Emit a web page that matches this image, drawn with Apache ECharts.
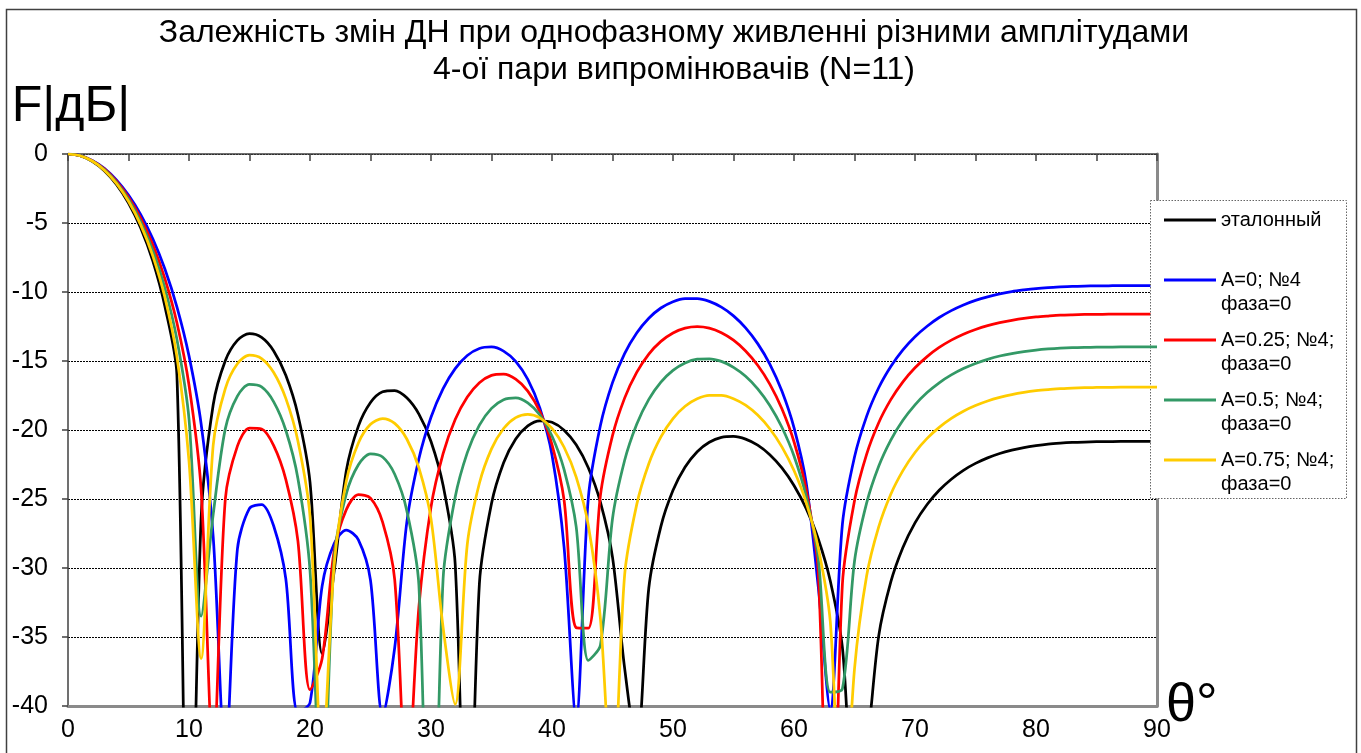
<!DOCTYPE html>
<html>
<head>
<meta charset="utf-8">
<script src="https://cdn.jsdelivr.net/npm/echarts@6/dist/echarts.min.js"></script>
<style>
html,body{margin:0;padding:0;background:#fff;}
#chart{width:1361px;height:753px;}
</style>
</head>
<body>
<div id="chart"></div>
<script>
const theta = [0,1,2,3,4,5,6,7,8,9,10,11,12,13,14,15,16,17,18,19,20,21,22,23,24,25,26,27,28,29,30,31,32,33,34,35,36,37,38,39,40,41,42,43,44,45,46,47,48,49,50,51,52,53,54,55,56,57,58,59,60,61,62,63,64,65,66,67,68,69,70,71,72,73,74,75,76,77,78,79,80,81,82,83,84,85,86,87,88,89,90];

const etalon = [0,-0.13,-0.53,-1.21,-2.20,-3.55,-5.34,-7.72,-11.01,-15.99,-60,-26.44,-18.17,-14.98,-13.51,-13.02,-13.29,-14.27,-16.04,-18.89,-23.77,-36.20,-30.21,-22.95,-19.72,-18.01,-17.23,-17.14,-17.67,-18.85,-20.83,-24.01,-29.73,-55.41,-31.13,-25.33,-22.37,-20.65,-19.70,-19.33,-19.44,-20.01,-21.07,-22.73,-25.23,-29.21,-37.24,-43.07,-31.45,-26.98,-24.37,-22.68,-21.57,-20.89,-20.54,-20.47,-20.66,-21.10,-21.79,-22.75,-24.02,-25.68,-27.88,-30.94,-35.76,-47.10,-43.03,-34.92,-31.01,-28.51,-26.73,-25.40,-24.37,-23.57,-22.92,-22.42,-22.02,-21.70,-21.46,-21.27,-21.13,-21.02,-20.95,-20.90,-20.87,-20.85,-20.84,-20.83,-20.83,-20.83,-20.83];

const a0 = [0,-0.11,-0.46,-1.03,-1.87,-2.97,-4.37,-6.13,-8.32,-11.07,-14.63,-19.55,-27.75,-43.84,-28.63,-25.68,-25.40,-26.96,-30.78,-40.47,-39.76,-31.32,-28.22,-27.25,-27.96,-30.89,-40.70,-35.78,-26.69,-22.08,-19.08,-17.00,-15.55,-14.60,-14.09,-13.98,-14.28,-15.03,-16.34,-18.42,-21.81,-28.50,-40.93,-24.93,-19.68,-16.57,-14.46,-12.97,-11.90,-11.16,-10.70,-10.48,-10.48,-10.68,-11.10,-11.73,-12.60,-13.74,-15.22,-17.18,-19.83,-23.79,-31.32,-40.24,-26.83,-21.96,-19.01,-16.94,-15.40,-14.19,-13.24,-12.48,-11.85,-11.35,-10.94,-10.61,-10.35,-10.14,-9.97,-9.85,-9.75,-9.68,-9.63,-9.59,-9.57,-9.56,-9.55,-9.54,-9.54,-9.54,-9.54];

const a025 = [0,-0.12,-0.48,-1.08,-1.96,-3.13,-4.64,-6.56,-9.02,-12.23,-16.74,-24.29,-43.58,-25.02,-21.17,-19.86,-19.93,-21.13,-23.58,-28.04,-38.82,-36.58,-28.75,-25.77,-24.68,-24.94,-26.68,-30.85,-46.11,-32.82,-25.58,-21.71,-19.24,-17.61,-16.57,-16.04,-15.95,-16.32,-17.18,-18.67,-21.06,-25.09,-34.33,-34.36,-24.75,-20.41,-17.69,-15.83,-14.50,-13.58,-12.97,-12.62,-12.51,-12.62,-12.95,-13.49,-14.27,-15.31,-16.67,-18.46,-20.85,-24.30,-30.18,-57.73,-31.17,-25.13,-21.76,-19.47,-17.80,-16.51,-15.49,-14.68,-14.02,-13.49,-13.06,-12.72,-12.44,-12.22,-12.05,-11.91,-11.81,-11.74,-11.68,-11.65,-11.63,-11.62,-11.61,-11.60,-11.60,-11.60,-11.60];

const a05 = [0,-0.12,-0.50,-1.13,-2.05,-3.28,-4.89,-6.97,-9.70,-13.43,-19.20,-33.48,-26.11,-19.92,-17.54,-16.70,-16.88,-17.96,-20.02,-23.51,-30.17,-48.61,-29.26,-24.63,-22.52,-21.73,-21.96,-23.21,-25.84,-31.25,-60,-30.79,-24.86,-21.64,-19.65,-18.43,-17.80,-17.67,-18.03,-18.91,-20.43,-22.87,-27.02,-36.69,-35.60,-26.43,-22.21,-19.58,-17.78,-16.53,-15.68,-15.14,-14.87,-14.84,-15.03,-15.46,-16.11,-17.02,-18.22,-19.80,-21.88,-24.78,-29.26,-39.00,-38.76,-29.51,-25.30,-22.63,-20.73,-19.30,-18.18,-17.29,-16.58,-16.01,-15.55,-15.18,-14.88,-14.64,-14.46,-14.32,-14.21,-14.13,-14.07,-14.03,-14.01,-14.00,-13.99,-13.98,-13.98,-13.98,-13.98];

const a075 = [0,-0.13,-0.51,-1.17,-2.13,-3.42,-5.12,-7.36,-10.36,-14.68,-22.26,-36.56,-21.09,-17.00,-15.20,-14.58,-14.82,-15.83,-17.71,-20.79,-26.25,-43.95,-29.75,-23.71,-20.94,-19.59,-19.17,-19.52,-20.65,-22.75,-26.44,-34.31,-39.88,-28.28,-23.86,-21.37,-19.89,-19.10,-18.86,-19.12,-19.89,-21.25,-23.41,-26.90,-33.65,-46.80,-30.53,-25.41,-22.44,-20.50,-19.17,-18.28,-17.74,-17.49,-17.49,-17.73,-18.20,-18.92,-19.91,-21.22,-22.94,-25.24,-28.51,-33.89,-50.33,-37.31,-30.58,-27.02,-24.65,-22.94,-21.63,-20.61,-19.81,-19.16,-18.64,-18.23,-17.90,-17.64,-17.43,-17.27,-17.15,-17.07,-17.01,-16.96,-16.93,-16.92,-16.91,-16.90,-16.90,-16.90,-16.90];

const seriesNames = ['эталонный', 'A=0; №4\nфаза=0', 'A=0.25; №4;\nфаза=0', 'A=0.5; №4;\nфаза=0', 'A=0.75; №4;\nфаза=0'];
const seriesValues = [etalon, a0, a025, a05, a075];
const seriesColors = ['#000000', '#0000FF', '#FF0000', '#339966', '#FFCC00'];

const titleText = 'Залежність змін ДН при однофазному живленні різними амплітудами\n4-ої пари випромінювачів (N=11)';
const yName = 'F|дБ|';
const xName = 'θ°';

const FONT = '"Liberation Sans", Arial, sans-serif';
const legendIcon = 'path://M0,0 M52,48 M0,10.6 L52,10.6 L52,13.4 L0,13.4 Z';

const chart = echarts.init(document.getElementById('chart'), null, {renderer: 'canvas'});
chart.setOption({
  animation: false,
  backgroundColor: '#ffffff',
  textStyle: {fontFamily: FONT},
  title: {
    text: titleText,
    left: 669,
    top: 10,
    textAlign: 'center',
    padding: 5,
    textStyle: {fontFamily: FONT, fontSize: 32, fontWeight: 'normal', color: '#000', lineHeight: 37}
  },
  graphic: [
    {type: 'rect', shape: {x: 6.5, y: 9.5, width: 1350, height: 770}, style: {fill: 'none', stroke: '#404040', lineWidth: 1.5}, silent: true, z: -10},
    {type: 'rect', shape: {x: 1150.5, y: 200.5, width: 196, height: 298}, style: {fill: '#fff', stroke: '#666', lineWidth: 1, lineDash: [1.5, 1.5]}, silent: true, z: 5}
  ],
  legend: {
    orient: 'vertical',
    left: 1164,
    top: 208,
    padding: 0,
    itemGap: 12,
    itemWidth: 52,
    itemHeight: 48,
    symbolKeepAspect: false,
    itemStyle: {borderWidth: 0},
    textStyle: {fontFamily: FONT, fontSize: 20, lineHeight: 24, color: '#000'},
    formatter: function (name) { return name.indexOf('\n') >= 0 ? name : name + '\n '; },
    data: seriesNames.map(function (n) { return {name: n, icon: legendIcon}; }),
    z: 10
  },
  grid: {left: 68, right: 204, top: 154, bottom: 47, containLabel: false},
  xAxis: [
    {
      type: 'value', position: 'bottom', min: 0, max: 90, interval: 10,
      axisLine: {show: true, onZero: false, lineStyle: {color: '#8a8a8a', width: 3}},
      axisTick: {show: false},
      axisLabel: {fontFamily: FONT, fontSize: 25, color: '#000', margin: 12},
      splitLine: {show: false},
      name: xName, nameLocation: 'end', nameGap: 9, nameMoveOverlap: false,
      nameTextStyle: {fontFamily: FONT, fontSize: 54, color: '#000', align: 'left', verticalAlign: 'middle', padding: [18, 0, 0, 0]}
    },
    {
      type: 'value', position: 'top', min: 0, max: 90, interval: 5,
      axisLine: {show: true, onZero: false, lineStyle: {color: '#404040', width: 1.5}},
      axisTick: {show: true, inside: true, length: 7, lineStyle: {color: '#404040', width: 1.5}},
      axisLabel: {show: false},
      splitLine: {show: false}
    }
  ],
  yAxis: [
    {
      type: 'value', position: 'left', min: -40, max: 0, interval: 5,
      axisLine: {show: true, onZero: false, lineStyle: {color: '#404040', width: 1.5}},
      axisTick: {show: true, inside: false, length: 6, lineStyle: {color: '#404040', width: 1.5}},
      axisLabel: {fontFamily: FONT, fontSize: 25, color: '#000', margin: 20},
      splitLine: {show: true, lineStyle: {color: '#000', width: 1, type: [2, 1]}},
      name: yName, nameLocation: 'end', nameGap: 47, nameMoveOverlap: false,
      nameTextStyle: {fontFamily: FONT, fontSize: 50, color: '#000', align: 'center', verticalAlign: 'middle', padding: [0, 0, 0, 6]}
    },
    {
      type: 'value', position: 'right', min: -40, max: 0, interval: 5,
      axisLine: {show: true, onZero: false, lineStyle: {color: '#8a8a8a', width: 3}},
      axisTick: {show: false}, axisLabel: {show: false}, splitLine: {show: false}
    }
  ],
  series: seriesNames.map(function (n, i) {
    return {
      name: n,
      type: 'line',
      xAxisIndex: 0,
      yAxisIndex: 0,
      data: theta.map(function (t, k) { return [t, seriesValues[i][k]]; }),
      showSymbol: false,
      smooth: 0.3,
      clip: true,
      color: seriesColors[i],
      lineStyle: {color: seriesColors[i], width: 2.75},
      itemStyle: {color: seriesColors[i]},
      z: 2 + i
    };
  })
});
</script>
</body>
</html>
